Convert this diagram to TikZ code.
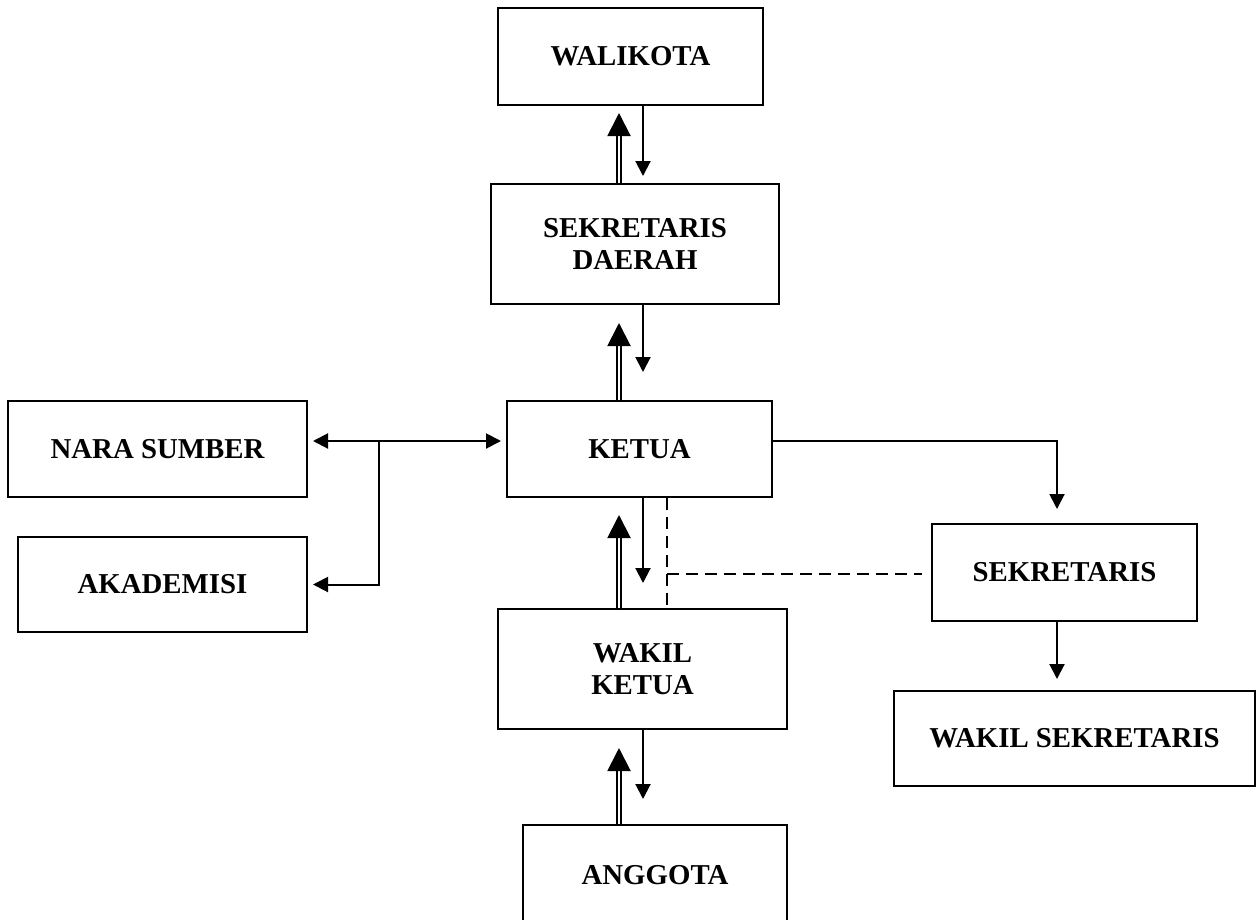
\documentclass[tikz,border=0pt]{standalone}
\usepackage{fontspec}
\setmainfont{Liberation Serif}
\usetikzlibrary{arrows.meta,calc}

\begin{document}
\begin{tikzpicture}[x=0.2mm,y=-0.2mm,
	>={Triangle[length=3mm,width=3mm]},
	box/.style={draw, line width=0.4mm, align=center, inner sep=0pt,
		font=\fontsize{16.4}{18.5}\selectfont\bfseries},
	line/.style={line width=0.4mm},
	uparr/.style={double, line width=0.4mm, double distance=0.5mm,
		-{Triangle[length=4.6mm,width=4.6mm]}},
	dline/.style={line width=0.4mm, dash pattern=on 2.4mm off 1.4mm}]
	\useasboundingbox (0,0) rectangle (1256,919);

	% boxes
	\node[box, minimum width=53mm, minimum height=19.4mm] (W) at (630.5,56.5) {WALIKOTA};
	\node[box, minimum width=57.6mm, minimum height=24mm] (SD) at (635,244) {SEKRETARIS\\DAERAH};
	\node[box, minimum width=53mm, minimum height=19.2mm] (K) at (639.5,449) {KETUA};
	\node[box, minimum width=59.8mm, minimum height=19.2mm] (NS) at (157.5,449) {NARA SUMBER};
	\node[box, minimum width=57.8mm, minimum height=19mm] (A) at (162.5,584.5) {AKADEMISI};
	\node[box, minimum width=53mm, minimum height=19.4mm] (S) at (1064.5,572.5) {SEKRETARIS};
	\node[box, minimum width=57.8mm, minimum height=24mm] (WK) at (642.5,669) {WAKIL\\KETUA};
	\node[box, minimum width=72.2mm, minimum height=19mm] (WS) at (1074.5,738.5) {WAKIL SEKRETARIS};
	\node[box, minimum width=52.8mm, minimum height=20mm] (AG) at (655,875) {ANGGOTA};

	\coordinate (dbl) at (619,0);
	\coordinate (sgl) at (643,0);
	\coordinate (jl) at (379,441);
	\coordinate (jr) at (1057,441);
	\coordinate (dj) at (667,574);

	% up and down the middle
	\draw[line, ->, shorten >=1.4mm] (W.south -| sgl) -- (SD.north -| sgl);
	\draw[uparr, shorten >=1.4mm] (SD.north -| dbl) -- (W.south -| dbl);
	\draw[line, ->, shorten >=5.6mm] (SD.south -| sgl) -- (K.north -| sgl);
	\draw[uparr, shorten >=3.6mm] (K.north -| dbl) -- (SD.south -| dbl);
	\draw[line, ->, shorten >=5mm] (K.south -| sgl) -- (WK.north -| sgl);
	\draw[uparr, shorten >=3.4mm] (WK.north -| dbl) -- (K.south -| dbl);
	\draw[line, ->, shorten >=5mm] (WK.south -| sgl) -- (AG.north -| sgl);
	\draw[uparr, shorten >=3.6mm] (AG.north -| dbl) -- (WK.south -| dbl);

	% left side
	\draw[line, <->, shorten <=1mm, shorten >=1mm] (jl -| NS.east) -- (jl -| K.west);
	\draw[line, ->, shorten >=1mm] (jl) |- (A.east);

	% right side
	\draw[line, ->, shorten >=2.8mm] (jr -| K.east) -- (jr) -- (jr |- S.north);
	\draw[line, ->, shorten >=2.2mm] (S.south -| jr) -- (WS.north -| jr);

	% dashed
	\draw[dline] (K.south -| dj) -- (WK.north -| dj);
	\draw[dline, shorten >=1.8mm] (dj) -- (dj -| S.west);
\end{tikzpicture}
\end{document}
